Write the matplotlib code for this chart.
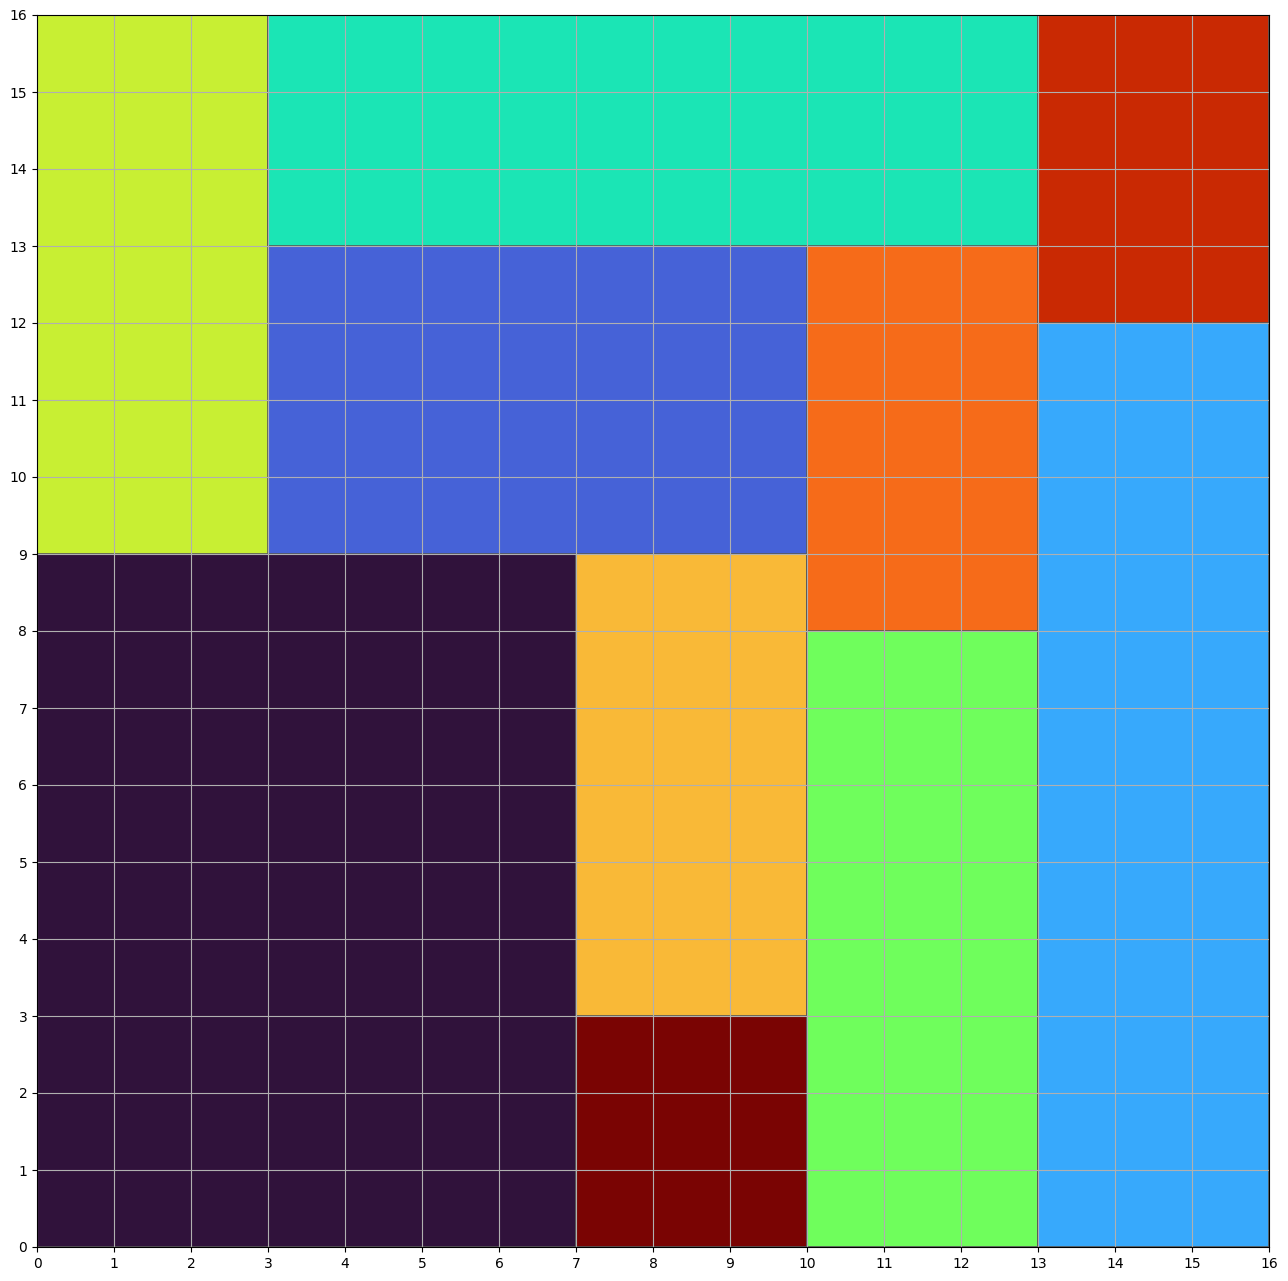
import matplotlib
matplotlib.use("Agg")
import matplotlib.pyplot as plt
from matplotlib.patches import Rectangle

# rectangles packed into a 16 x 16 bin
rect_x = [0, 7, 7, 10, 13, 10, 3, 0, 3, 13]
rect_y = [0, 0, 3, 0, 0, 8, 9, 9, 13, 12]
rect_w = [7, 3, 3, 3, 3, 3, 7, 3, 10, 3]
rect_h = [9, 3, 6, 8, 12, 5, 4, 7, 3, 4]
rect_colors = ["#30123b", "#7a0403", "#f9b937", "#6ffe5c", "#37a9fc",
               "#f66b19", "#4662d7", "#c8ef33", "#1be5b5", "#c92903"]
bin_w = 16
bin_h = 16

fig, ax = plt.subplots(figsize=(12.88, 12.81), dpi=100)
for x, y, w, h, c in zip(rect_x, rect_y, rect_w, rect_h, rect_colors):
    ax.add_patch(Rectangle((x, y), w, h, facecolor=c, edgecolor="#555555", linewidth=1.2))

ax.set_xlim(0, bin_w)
ax.set_ylim(0, bin_h)
ax.set_xticks(range(bin_w + 1))
ax.set_yticks(range(bin_h + 1))
ax.set_aspect("equal")
ax.grid(True, color="#b0b0b0", linewidth=0.8)
ax.set_axisbelow(False)
for sp in ax.spines.values():
    sp.set_zorder(5)
plt.subplots_adjust(left=37 / 1288, right=1269 / 1288, bottom=1 - 1247 / 1281, top=1 - 15 / 1281)
plt.savefig("out.png")
